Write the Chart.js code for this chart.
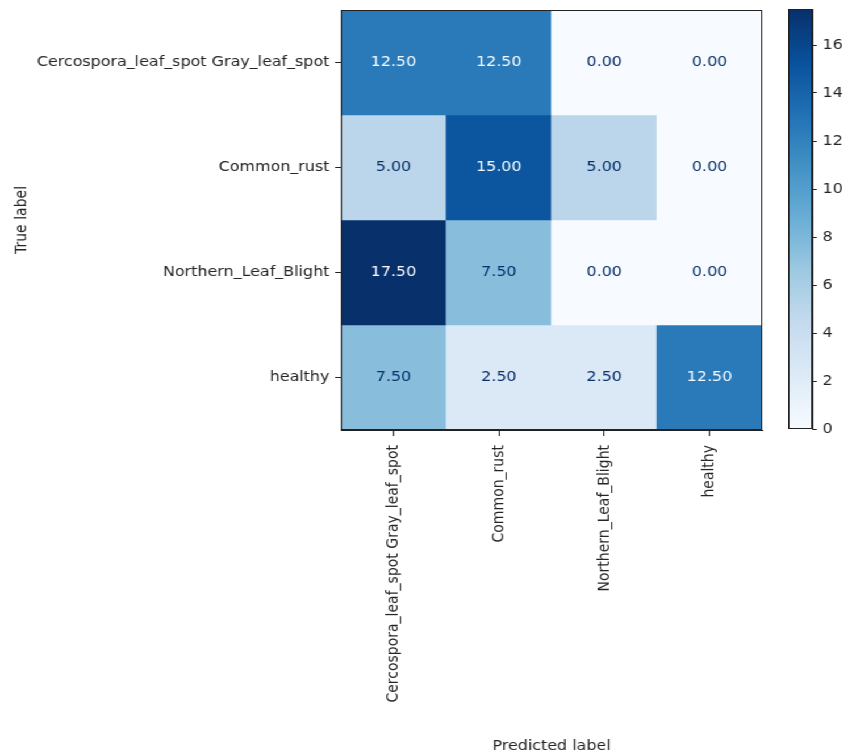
<!DOCTYPE html>
<html>
<head>
<meta charset="utf-8">
<script src="https://cdn.jsdelivr.net/npm/chart.js@4/dist/chart.umd.min.js"></script>
<style>
  html, body { margin: 0; padding: 0; background: #fff; overflow: hidden; }
  /* figure is drawn at 743px wide and widened to 844px */
  #wrap { position: relative; width: 743px; height: 756px; transform: scaleX(1.136); transform-origin: 0 0; }
  #cm { position: absolute; left: 0; top: 0; }
  #cbar { position: absolute; left: 694px; top: 0; }
</style>
</head>
<body>
<div id="wrap">
  <canvas id="cm" width="743" height="756"></canvas>
  <canvas id="cbar" width="49" height="440"></canvas>
</div>
<script>
// Class names (rows = true label, columns = predicted label)
const trueLabels = ['Cercospora_leaf_spot Gray_leaf_spot', 'Common_rust', 'Northern_Leaf_Blight', 'healthy'];
const predLabels = ['Cercospora_leaf_spot Gray_leaf_spot', 'Common_rust', 'Northern_Leaf_Blight', 'healthy'];

// Confusion matrix rows (percent)
const rowCercospora = [12.5, 12.5, 0, 0];
const rowCommonRust = [5, 15, 5, 0];
const rowNorthern   = [17.5, 7.5, 0, 0];
const rowHealthy    = [7.5, 2.5, 2.5, 12.5];
const matrixRows = [rowCercospora, rowCommonRust, rowNorthern, rowHealthy];

// Colorbar ticks
const colorbarTicks = [0, 2, 4, 6, 8, 10, 12, 14, 16];

const FONT = "'DejaVu Sans', sans-serif";
const TEXT = '#262626';
const LINE = '#222';

// "Blues" colour map stops
const BLUES = [
  [247, 251, 255], [222, 235, 247], [198, 219, 239], [158, 202, 225],
  [107, 174, 214], [66, 146, 198], [33, 113, 181], [8, 81, 156], [8, 48, 107]
];
function blues(t) {
  t = Math.max(0, Math.min(1, t));
  const p = t * (BLUES.length - 1);
  const i = Math.min(Math.floor(p), BLUES.length - 2);
  const f = p - i;
  const a = BLUES[i], b = BLUES[i + 1];
  const c = a.map((v, k) => Math.round(v + (b[k] - v) * f));
  return `rgb(${c[0]},${c[1]},${c[2]})`;
}

const allValues = matrixRows.flat();
const vmin = Math.min(...allValues);
const vmax = Math.max(...allValues);
const norm = v => (v - vmin) / (vmax - vmin);
const threshold = (vmax + vmin) / 2;

// One floating-bar dataset per true-label row: each cell spans [r, r+1]
const datasets = matrixRows.map((row, r) => ({
  label: trueLabels[r],
  data: predLabels.map(() => [r, r + 1]),
  values: row,
  backgroundColor: row.map(v => blues(norm(v))),
  borderWidth: 0,
  barPercentage: 1,
  categoryPercentage: 1,
  grouped: false
}));

function frame(chart) {
  const a = chart.chartArea, ctx = chart.ctx;
  ctx.save();
  ctx.strokeStyle = LINE;
  ctx.lineWidth = 1;
  ctx.strokeRect(Math.round(a.left) + 0.5, Math.round(a.top) + 0.5,
                 Math.round(a.right - a.left) - 1, Math.round(a.bottom - a.top) - 1);
  ctx.restore();
}

// Writes the value of each cell at its centre, and frames the plot area
const cellText = {
  id: 'cellText',
  afterDatasetsDraw(chart) {
    const ctx = chart.ctx;
    ctx.save();
    ctx.font = `14px ${FONT}`;
    ctx.textAlign = 'center';
    ctx.textBaseline = 'middle';
    chart.data.datasets.forEach((ds, di) => {
      const meta = chart.getDatasetMeta(di);
      meta.data.forEach((el, i) => {
        const v = ds.values[i];
        ctx.fillStyle = v < threshold ? blues(1) : blues(0);
        ctx.fillText(v.toFixed(2), el.x, (el.y + el.base) / 2);
      });
    });
    ctx.restore();
    frame(chart);
  }
};

function noEdgePadding(scale) {
  scale.paddingTop = 0;
  scale.paddingBottom = 0;
}

new Chart(document.getElementById('cm'), {
  type: 'bar',
  data: { labels: predLabels, datasets },
  options: {
    responsive: false,
    devicePixelRatio: 1,
    animation: false,
    layout: { padding: { left: 7, right: 72, top: 10, bottom: 0 } },
    plugins: { legend: { display: false }, tooltip: { enabled: false } },
    scales: {
      x: {
        type: 'category',
        offset: true,
        grid: { display: true, drawOnChartArea: false, offset: false, tickLength: 6, color: LINE },
        border: { display: true, color: LINE },
        ticks: { color: TEXT, font: { family: FONT, size: 14 }, maxRotation: 90, minRotation: 90, padding: 9, autoSkip: false },
        title: { display: true, text: 'Predicted label', color: TEXT, font: { family: FONT, size: 14 }, padding: { top: 4, bottom: 1 } },
        afterFit(scale) { scale.height = 756 - 430; }
      },
      y: {
        type: 'linear',
        min: 0,
        max: trueLabels.length,
        reverse: true,
        afterBuildTicks(scale) { scale.ticks = trueLabels.map((_, i) => ({ value: i + 0.5 })); },
        grid: { display: true, drawOnChartArea: false, tickLength: 5, color: LINE },
        border: { display: true, color: LINE },
        ticks: {
          color: TEXT, font: { family: FONT, size: 14 }, padding: 5, autoSkip: false,
          callback: v => trueLabels[Math.floor(v)]
        },
        title: { display: true, text: 'True label', color: TEXT, font: { family: FONT, size: 14 }, padding: { top: 4, bottom: 4 } },
        afterFit(scale) { scale.width = 300 - 7; noEdgePadding(scale); }
      }
    }
  },
  plugins: [cellText]
});

// Colorbar: a single floating bar from vmin to vmax, filled with the colour map
const cbarFrame = { id: 'cbarFrame', afterDatasetsDraw: frame };

new Chart(document.getElementById('cbar'), {
  type: 'bar',
  data: {
    labels: [''],
    datasets: [{
      data: [[vmin, vmax]],
      barPercentage: 1,
      categoryPercentage: 1,
      borderWidth: 0,
      backgroundColor(ctx) {
        const { chart } = ctx;
        if (!chart.chartArea) return blues(0.5);
        const y = chart.scales.y;
        const g = chart.ctx.createLinearGradient(0, y.getPixelForValue(vmin), 0, y.getPixelForValue(vmax));
        BLUES.forEach((c, i) => g.addColorStop(i / (BLUES.length - 1), `rgb(${c[0]},${c[1]},${c[2]})`));
        return g;
      }
    }]
  },
  options: {
    responsive: false,
    devicePixelRatio: 1,
    animation: false,
    layout: { padding: { left: 0, right: 0, top: 9, bottom: 11 } },
    plugins: { legend: { display: false }, tooltip: { enabled: false } },
    scales: {
      x: { display: false },
      y: {
        position: 'right',
        min: vmin,
        max: vmax,
        afterBuildTicks(scale) { scale.ticks = colorbarTicks.map(v => ({ value: v })); },
        grid: { display: true, drawOnChartArea: false, tickLength: 4, color: LINE },
        border: { display: true, color: LINE },
        ticks: { color: TEXT, font: { family: FONT, size: 14 }, padding: 5 },
        afterFit(scale) { scale.width = 49 - 21; noEdgePadding(scale); }
      }
    }
  },
  plugins: [cbarFrame]
});
</script>
</body>
</html>
